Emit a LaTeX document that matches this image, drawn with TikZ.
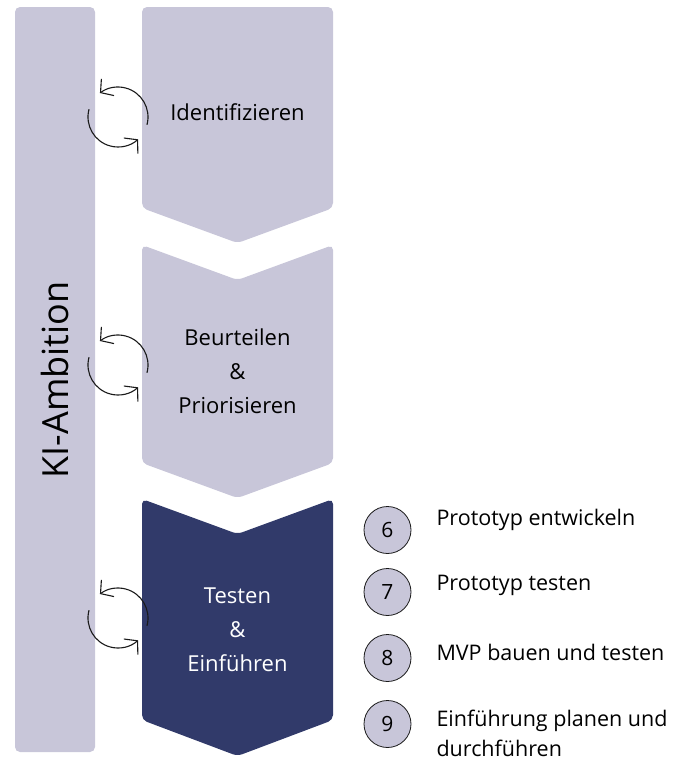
\documentclass[tikz,border=0pt]{standalone}
\usepackage{fontspec}
\setmainfont{Open Sans}
\usetikzlibrary{arrows.meta}
\definecolor{lav}{HTML}{C8C6D9}
\definecolor{navy}{HTML}{313A6A}
\definecolor{ink}{HTML}{1A1A1A}
\begin{document}
\begin{tikzpicture}[x=1pt,y=-1pt,
  panel/.style={fill=lav,draw=none,rounded corners=5pt},
  stagetext/.style={font=\fontsize{22}{34}\selectfont,align=center,text=black},
  cyc/.style={draw=ink,line width=1.1pt,-{Straight Barb[length=9pt,width=21pt,line width=1.1pt]}},
  num/.style={circle,draw=ink,line width=0.8pt,fill=lav,minimum size=47pt,inner sep=0pt,font=\fontsize{21}{24}\selectfont},
  item/.style={anchor=west,font=\fontsize{21.5}{30}\selectfont,align=left,text=black}]
\useasboundingbox (0,0) rectangle (693,761);

% side bar
\path[panel] (15,7) rectangle (95,752);
\node[rotate=90,font=\fontsize{36}{40}\selectfont] (amb) at (55,380) {KI-Ambition};

% stage chevrons
\path[panel] (142,7) -- (333,7) -- (333,208) -- (237.5,243) -- (142,208) -- cycle;
\path[panel] (142,245) -- (237.5,280) -- (333,245) -- (333,463) -- (237.5,498) -- (142,463) -- cycle;
\path[panel,fill=navy] (142,499) -- (237.5,534) -- (333,499) -- (333,720) -- (237.5,756) -- (142,720) -- cycle;

\node[stagetext] (s1) at (237.5,112) {Identifizieren};
\node[stagetext] (s2) at (237.5,371) {Beurteilen\\\&\\Priorisieren};
\node[stagetext,text=white] (s3) at (237.5,630) {Testen\\\&\\Einführen};

% cycle icons (y axis points down, so angles run clockwise on the page)
\foreach \cy in {117,365,618}{
  \draw[cyc] (118,\cy) ++(15:30) arc[start angle=15,end angle=-127,radius=30];
  \draw[cyc] (118,\cy) ++(-165:30) arc[start angle=-165,end angle=-312,radius=30];
}

% numbered steps
\node[num] (n6) at (387.5,530) {6};
\node[num] (n7) at (387.5,592) {7};
\node[num] (n8) at (387.5,658) {8};
\node[num] (n9) at (387.5,724) {9};
\node[item] (t6) at (433,520) {Prototyp entwickeln};
\node[item] (t7) at (433,585) {Prototyp testen};
\node[item,inner ysep=1pt] (t9) at (433,733) {Einführung planen und\\durchführen};
\node[item] (t8) at (433,652) {MVP bauen und testen};
\end{tikzpicture}
\end{document}
